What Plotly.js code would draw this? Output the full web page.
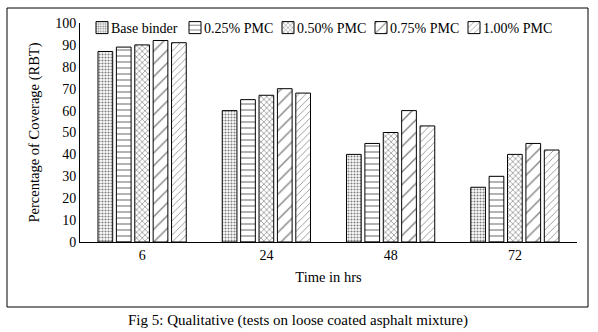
<!DOCTYPE html>
<html><head><meta charset="utf-8">
<script src="https://cdn.plot.ly/plotly-3.0.1.min.js"></script>
<style>html,body{margin:0;padding:0;background:#fff}#chart{width:598px;height:332px}</style>
</head><body><div id="chart"></div>
<script>
const categories = ["6", "24", "48", "72"];
const seriesNames = ["Base binder", "0.25% PMC", "0.50% PMC", "0.75% PMC", "1.00% PMC"];
const baseBinder = [87, 60, 40, 25];
const pmc025 = [89, 65, 45, 30];
const pmc050 = [90, 67, 50, 40];
const pmc075 = [92, 70, 60, 45];
const pmc100 = [91, 68, 53, 42];
const yTicks = [0, 10, 20, 30, 40, 50, 60, 70, 80, 90, 100];

const values = [baseBinder, pmc025, pmc050, pmc075, pmc100];
const patterns = [
  {shape: ".", size: 3, solidity: 0.4},
  {shape: "-", size: 6, solidity: 0.2},
  {shape: "x", size: 4, solidity: 0.3},
  {shape: "/", size: 9, solidity: 0.15},
  {shape: "/", size: 5, solidity: 0.15}
];
const font = "Times New Roman";
const traces = values.map((v, i) => ({
  type: "bar", name: seriesNames[i], x: categories, y: v,
  marker: {color: "#fff", line: {color: "#000", width: 1},
    pattern: Object.assign({fgcolor: "#000", bgcolor: "#fff", fillmode: "overlay"}, patterns[i])}
}));

const L = 80, R = 577, T = 23, B = 242;
const pw = R - L, ph = B - T;
const px = x => (x - L) / pw;
const py = y => (B - y) / ph;

const layout = {
  width: 598, height: 332,
  margin: {l: L, r: 598 - R, t: T, b: 332 - B},
  paper_bgcolor: "#fff", plot_bgcolor: "#fff",
  font: {family: font, size: 13.5, color: "#000"},
  barmode: "group", bargap: 0.26, bargroupgap: 0.2,
  showlegend: true,
  legend: {orientation: "h", x: px(82), y: py(12), xanchor: "left", yanchor: "top",
    font: {family: font, size: 14, color: "#000"}, entrywidth: 48, entrywidthmode: "pixels",
    bgcolor: "rgba(0,0,0,0)", itemwidth: 30, traceorder: "normal"},
  xaxis: {type: "category", showline: true, linecolor: "#000", linewidth: 1, ticks: "",
    showgrid: false, zeroline: false, tickfont: {family: font, size: 14},
    title: {text: "Time in hrs", font: {family: font, size: 14.5}, standoff: 10}},
  yaxis: {range: [0, 100], tickvals: yTicks, showline: true, linecolor: "#000", linewidth: 1,
    ticks: "", showgrid: false, zeroline: false, tickfont: {family: font, size: 14},
    title: {text: "Percentage of Coverage (RBT)", font: {family: font, size: 14.5}, standoff: 12}},
  shapes: [{type: "rect", xref: "paper", yref: "paper", x0: px(7), x1: px(588), y0: py(307), y1: py(8),
    line: {color: "#000", width: 1}, fillcolor: "rgba(0,0,0,0)", layer: "below"}],
  annotations: [{xref: "paper", yref: "paper", x: px(298), y: py(320), xanchor: "center", yanchor: "middle",
    showarrow: false, text: "Fig 5: Qualitative (tests on loose coated asphalt mixture)",
    font: {family: font, size: 15, color: "#000"}}]
};
Plotly.newPlot("chart", traces, layout, {displayModeBar: false, staticPlot: true}).then(gd => {
  gd.querySelectorAll("g.legend text.legendtext").forEach(t => t.setAttribute("x", "29"));
  gd.querySelectorAll("g.legend [clip-path]").forEach(s => s.removeAttribute("clip-path"));
});
</script></body></html>
